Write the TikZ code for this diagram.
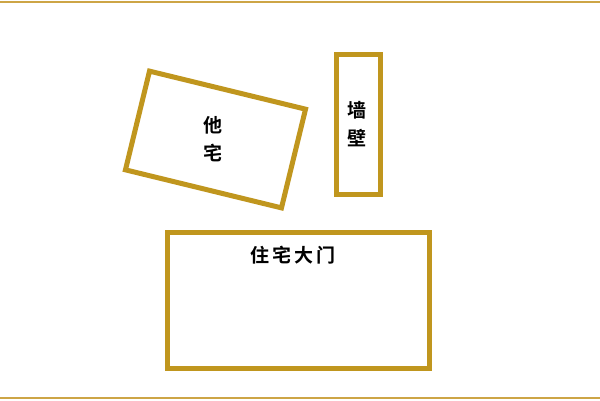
\documentclass[tikz,border=0pt]{standalone}
\usepackage{fontspec}
\newfontfamily\cjk{Noto Sans CJK SC}[BoldFont={Noto Sans CJK SC Bold}]
\definecolor{gold}{RGB}{192,150,30}
\definecolor{paleline}{RGB}{205,165,70}
\tikzset{
	plot/.style={draw=gold, line width=5pt, inner sep=0pt, rectangle},
	label/.style={font=\cjk\bfseries\fontsize{19}{28}\selectfont, align=center, inner sep=0pt},
}
\begin{document}
\begin{tikzpicture}[x=1pt, y=-1pt]
		\useasboundingbox[fill=white] (0,0) rectangle (600,400);
		\draw[paleline, line width=2pt] (0,2) -- (600,2);
		\draw[paleline, line width=2pt] (0,397.5) -- (600,397.5);
		
		% neighbouring house, turned
		\node[plot, rotate=-13.7, minimum width=160.6pt, minimum height=101.6pt] (other) at (215.5,139.5) {};
		\node[label] (otherlabel) at (213,139) {他\\宅};
		
		% wall
		\node[plot, minimum width=44pt, minimum height=140pt] (wall) at (358,124) {};
		\node[label] (walllabel) at (357,124) {墙\\壁};
		
		% front door of the house
		\node[plot, minimum width=262pt, minimum height=136pt] (door) at (298,300) {};
		\node[label, font=\cjk\bfseries\fontsize{19}{28}\selectfont\addfontfeature{LetterSpace=15}] (doorlabel) at (293,255) {住宅大门};
	\end{tikzpicture}
\end{document}
